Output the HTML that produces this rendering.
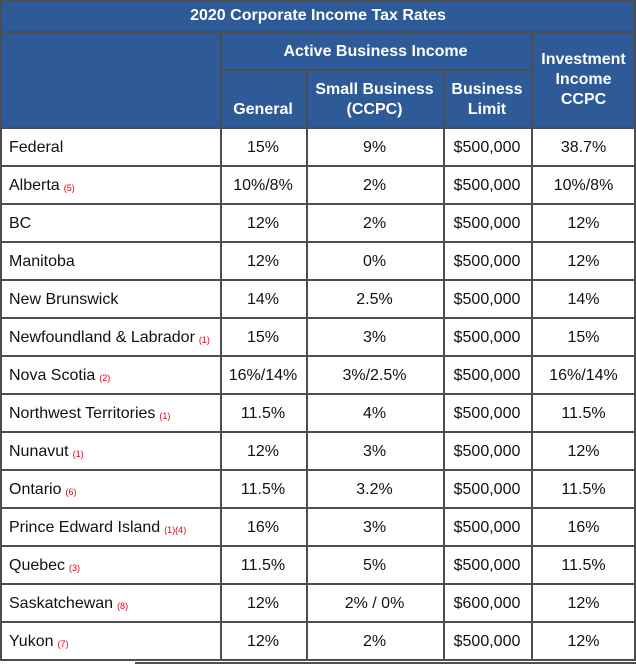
<!DOCTYPE html>
<html><head><meta charset="utf-8">
<style>
html,body{margin:0;padding:0;background:#fff;}
#t{position:relative;width:636px;height:664px;overflow:hidden;font-family:"Liberation Sans",Arial,sans-serif;}
.c{position:absolute;box-sizing:border-box;display:flex;align-items:center;justify-content:center;text-align:center;font-size:16px;color:#111;}
.d{padding-top:2px;}
.h{background:#2e5b97;color:#fff;font-weight:bold;line-height:20px;}
.l{justify-content:flex-start;padding-left:9px;padding-top:2px;}
.n{color:#e0001a;font-size:9px;margin-left:4px;position:relative;top:2px;}
.ln{position:absolute;background:#4d4d4d;}
</style></head><body>
<div id="t"></div>
<script>
const provinces=["Federal","Alberta","BC","Manitoba","New Brunswick","Newfoundland & Labrador","Nova Scotia","Northwest Territories","Nunavut","Ontario","Prince Edward Island","Quebec","Saskatchewan","Yukon"];
const notes=["","(5)","","","","(1)","(2)","(1)","(1)","(6)","(1)(4)","(3)","(8)","(7)"];
const general=["15%","10%/8%","12%","12%","14%","15%","16%/14%","11.5%","12%","11.5%","16%","11.5%","12%","12%"];
const small=["9%","2%","2%","0%","2.5%","3%","3%/2.5%","4%","3%","3.2%","3%","5%","2% / 0%","2%"];
const limit=["$500,000","$500,000","$500,000","$500,000","$500,000","$500,000","$500,000","$500,000","$500,000","$500,000","$500,000","$500,000","$600,000","$500,000"];
const invest=["38.7%","10%/8%","12%","12%","14%","15%","16%/14%","11.5%","12%","11.5%","16%","11.5%","12%","12%"];
const X=[0,220,306,443,531,635];
const t=document.getElementById('t');
function cell(x,y,w,h,html,cls,name){const d=document.createElement('div');d.className='c '+cls;d.style.cssText=`left:${x}px;top:${y}px;width:${w}px;height:${h}px`;d.innerHTML=html;


t.appendChild(d);return d;}
cell(0,0,636,31,'2020 Corporate Income Tax Rates','h','table-title');
cell(0,32,X[1],96,'','h','header-blank');
cell(X[1],33,X[4]-X[1],38,'Active Business Income','h','active-business-income-header');
cell(X[4],32,636-X[4],96,'Investment<br>Income<br>CCPC','h','investment-income-header');
const hd=['General','Small Business<br>(CCPC)','Business<br>Limit'];
hd.forEach((s,i)=>{const d=cell(X[i+1],70,X[i+2]-X[i+1],58,s,'h','col-header-'+i);d.style.alignItems='flex-end';d.style.paddingBottom='8px';});
const cols=[general,small,limit,invest];
for(let r=0;r<provinces.length;r++){const y=128+r*38;
cell(0,y,X[1],38,provinces[r]+(notes[r]?'<span class="n">'+notes[r]+'</span>':''),'l','row-label');
cols.forEach((a,i)=>{cell(X[i+1],y,(i==3?636:X[i+2])-X[i+1],38,a[r],'d','value-cell');});}
function line(x,y,w,h){const d=document.createElement('div');d.className='ln';d.style.cssText=`left:${x}px;top:${y}px;width:${w}px;height:${h}px`;


t.appendChild(d);}
line(0,0,636,1);line(0,31,636,2);line(X[1],69,X[4]-X[1],2);
for(let r=0;r<=14;r++)line(0,127+r*38,636,2);
line(0,0,2,661);line(634,0,2,661);
line(X[1],32,2,629);line(X[4],32,2,629);line(X[2],70,2,591);line(X[3],70,2,591);
line(135,662,501,2);
</script>
</body></html>
